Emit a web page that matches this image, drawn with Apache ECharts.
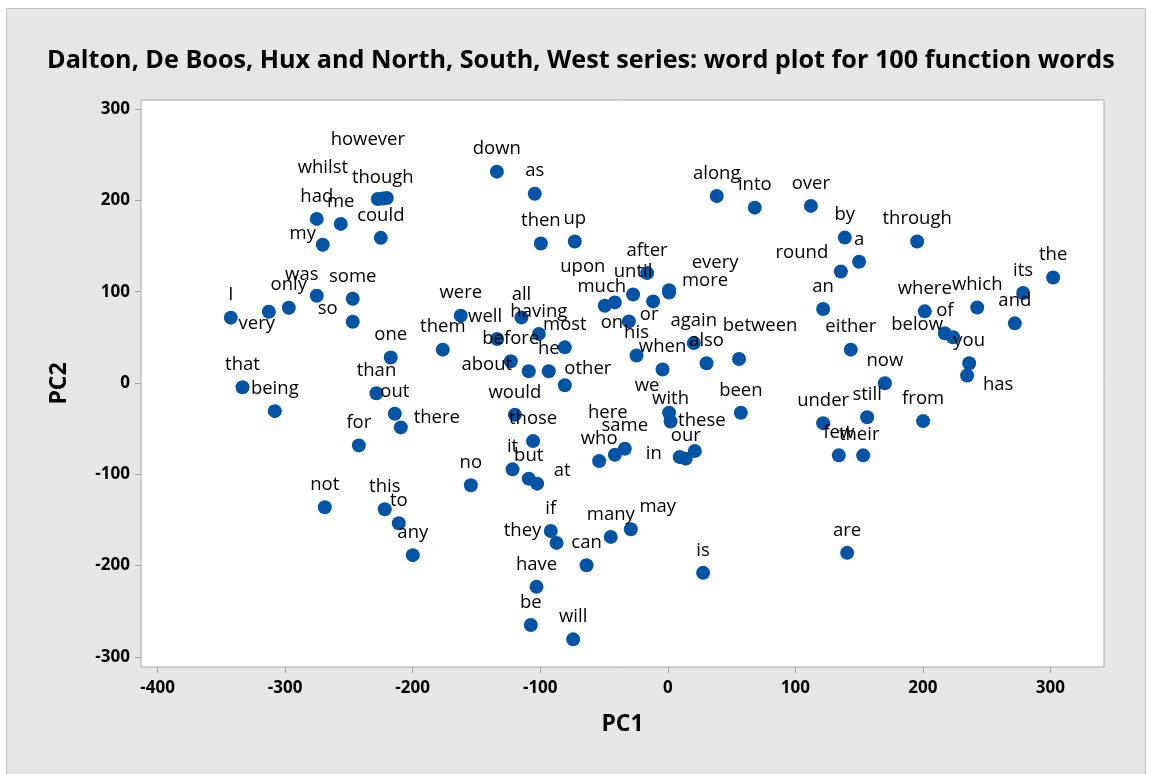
<!DOCTYPE html>
<html>
<head>
<meta charset="utf-8">
<script src="https://cdn.jsdelivr.net/npm/echarts@6/dist/echarts.min.js"></script>
<style>
  html, body { margin: 0; padding: 0; background: #ffffff; }
  #panel { position: absolute; left: 6px; top: 8px; width: 1138px; height: 770px; background: #e6e6e6; border: 1px solid #c4c4c4; }
  #chart { position: absolute; left: 0; top: 0; width: 1151px; height: 774px; }
</style>
</head>
<body>
<div id="panel"></div>
<div id="chart"></div>
<script>
// ---- data ----
const words = ["however","whilst","though","had","me","my","could","I","only","very","was","some","so","that","being","one","than","out","there","for","not","this","to","any","them","were","well","all","having","before","he","most","about","other","would","those","it","but","no","at","if","they","many","may","can","have","be","will","is","who","here","same","in","our","these","we","with","been","also","again","between","when","his","or","on","much","upon","until","after","every","more","down","as","then","up","along","into","over","by","a","round","an","through","the","its","which","where","and","of","below","you","has","either","now","under","still","from","few","their","are"];
const pc1 = [-223.4,-227.3,-220.3,-275.2,-256.4,-270.5,-225.0,-342.6,-297.1,-312.8,-275.2,-247.0,-247.0,-333.4,-308.1,-217.2,-228.4,-214.0,-209.3,-242.2,-268.9,-221.9,-210.9,-199.9,-176.4,-162.3,-133.8,-114.7,-101.1,-123.1,-93.3,-80.7,-109.0,-80.7,-119.9,-105.6,-121.7,-109.0,-154.4,-102.4,-91.7,-87.2,-44.7,-29.0,-63.7,-102.9,-107.4,-74.2,27.7,-53.8,-41.5,-33.7,9.4,14.1,21.2,1.0,2.2,57.3,30.4,20.4,55.9,-4.1,-24.5,-11.5,-30.5,-49.4,-41.5,-27.2,-16.2,1.0,1.0,-134.0,-104.3,-99.5,-72.9,38.4,68.2,112.2,138.8,150.0,135.7,121.8,195.5,302.1,278.6,242.6,201.5,272.1,217.2,223.7,236.3,234.7,143.5,170.2,121.8,156.3,200.2,134.1,153.2,140.6];
const pc2 = [202.2,201.6,202.7,179.8,174.3,151.4,159.0,71.6,82.5,78.1,95.6,92.3,67.2,-4.6,-30.8,27.9,-11.1,-33.7,-48.6,-68.3,-136.1,-138.3,-153.6,-188.5,36.6,73.8,48.3,71.9,53.8,23.8,12.9,39.1,12.9,-2.4,-34.8,-63.6,-94.5,-104.7,-112.0,-110.2,-162.0,-175.1,-168.5,-160.1,-199.5,-223.2,-265.0,-280.7,-207.9,-85.5,-78.5,-71.9,-81.1,-82.8,-74.5,-32.6,-42.1,-32.6,21.6,43.9,26.4,14.8,30.1,89.4,67.5,84.7,88.3,97.0,120.4,101.6,99.2,231.5,207.4,152.8,155.0,204.9,192.1,194.0,159.3,132.8,122.2,81.1,155.0,115.6,98.6,82.8,78.5,65.4,54.4,50.1,21.6,8.2,36.6,-0.2,-43.9,-37.4,-41.7,-79.2,-79.2,-186.0];
const xTicks = [-400,-300,-200,-100,0,100,200,300];
const yTicks = [-300,-200,-100,0,100,200,300];

// ---- layout: label shifts (px) relative to the default position above the point ----
const labelShift = {
  however:[-15,-36], whilst:[-55,-9], though:[-4,2], my:[-20,11], very:[-12,34], was:[-15,1],
  so:[-25,10], there:[36,13], well:[-12,0], about:[-42,16], other:[23,6], at:[25,10],
  they:[-34,10], may:[27,0], here:[-7,-19], in:[-26,19], these:[7,-8], we:[-22,-5],
  between:[21,-11], or:[-4,36], on:[-17,24], much:[-3,4], upon:[-32,-13],
  every:[46,-5], more:[36,11], round:[-39,4], below:[-36,10], has:[31,32], their:[-4,2]
};

const FONT = '"Open Sans", "Noto Sans", sans-serif';
const points = words.map((w, i) => ({ name: w, value: [pc1[i], pc2[i]] }));

const chart = echarts.init(document.getElementById('chart'), null, { renderer: 'canvas' });
chart.setOption({
  backgroundColor: 'transparent',
  animation: false,
  title: {
    text: 'Dalton, De Boos, Hux and North, South, West series: word plot for 100 function words',
    left: 42, top: 43,
    textStyle: { fontFamily: FONT, fontSize: 25.2, fontWeight: 'bold', color: '#000000' }
  },
  grid: { left: 141, right: 47, top: 100, bottom: 107, show: true, backgroundColor: '#ffffff', borderColor: '#a8a8a8', borderWidth: 1 },
  xAxis: {
    type: 'value', min: -413, max: 342,
    name: 'PC1', nameLocation: 'middle', nameGap: 46,
    nameTextStyle: { fontFamily: FONT, fontSize: 23, fontWeight: 'bold', color: '#000000' },
    axisLine: { show: false, onZero: false },
    axisTick: { show: true, customValues: xTicks, length: 6, lineStyle: { color: '#a0a0a0' } },
    axisLabel: { customValues: xTicks, margin: 13, fontFamily: FONT, fontSize: 17, fontWeight: 'bold', color: '#000000' },
    splitLine: { show: false }
  },
  yAxis: {
    type: 'value', min: -311, max: 310,
    name: 'PC2', nameLocation: 'middle', nameGap: 70,
    nameTextStyle: { fontFamily: FONT, fontSize: 23, fontWeight: 'bold', color: '#000000' },
    axisLine: { show: false, onZero: false },
    axisTick: { show: true, customValues: yTicks, length: 6, lineStyle: { color: '#a0a0a0' } },
    axisLabel: { customValues: yTicks, margin: 11, fontFamily: FONT, fontSize: 17, fontWeight: 'bold', color: '#000000' },
    splitLine: { show: false }
  },
  series: [{
    type: 'scatter',
    symbol: 'circle', symbolSize: 14,
    itemStyle: { color: '#0454a6', opacity: 1 },
    label: {
      show: true, position: 'top', distance: 6,
      formatter: p => p.name,
      fontFamily: FONT, fontSize: 18.5, color: '#000000'
    },
    labelLayout: function (params) {
      const s = labelShift[words[params.dataIndex]];
      return s ? { dx: s[0], dy: s[1] } : {};
    },
    emphasis: { disabled: true },
    data: points
  }]
});
</script>
</body>
</html>
